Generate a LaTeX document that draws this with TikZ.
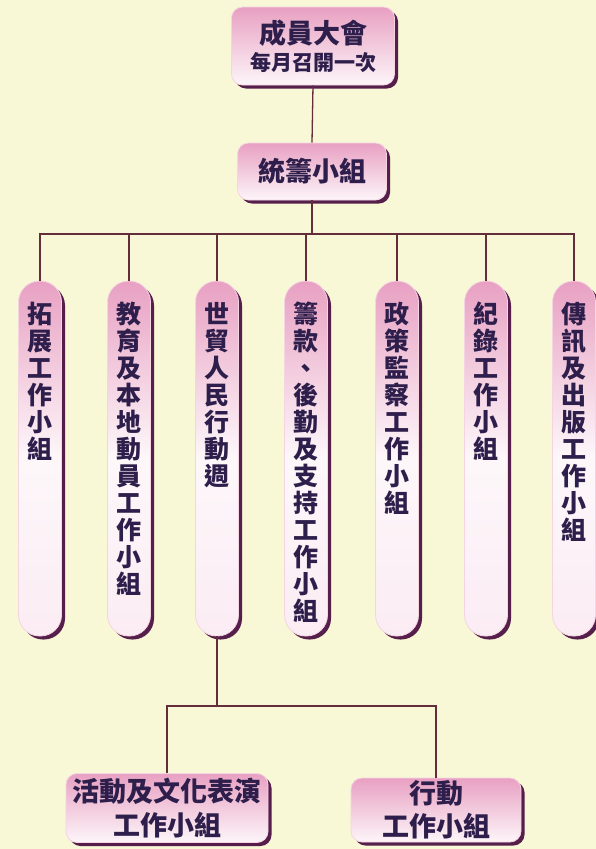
\documentclass[tikz,border=0pt]{standalone}
\usepackage{fontspec}
\newfontfamily\cjk{Noto Sans CJK TC}
\usetikzlibrary{shadows}
\definecolor{bg}{RGB}{248,248,214}
\definecolor{pk}{RGB}{232,160,194}
\definecolor{sh}{RGB}{85,30,75}
\definecolor{ln}{RGB}{100,45,60}
\definecolor{tx}{RGB}{45,30,75}
\newcommand\coltext[1]{\parbox[c][355pt][t]{43pt}{\vspace*{21pt}\centering\fontsize{25}{27}\selectfont #1\par}}
\tikzset{
 pbox/.style={draw=white!55!pk, line width=0.8pt, top color=pk, bottom color=white!90!pk,
   rounded corners=11pt, inner sep=0pt, text=tx, font=\cjk\bfseries, align=center,
   drop shadow={shadow xshift=3.5pt, shadow yshift=-3.5pt, fill=sh, opacity=1}},
 colbox/.style={pbox, rounded corners=21pt, top color=pk, bottom color=white!80!pk,
   middle color=white!92!pk, minimum width=43pt, minimum height=355pt},
 conn/.style={draw=ln, line width=1.3pt}
}
\begin{document}
\begin{tikzpicture}[x=1pt,y=1pt]
\useasboundingbox (0,0) rectangle (596,-849);
\fill[bg] (0,0) rectangle (596,-849);
% top boxes
\node[pbox, minimum width=163pt, minimum height=78pt] (top) at (313,-46)
  {{\fontsize{27}{27}\selectfont 成員大會}\\[5pt]{\fontsize{21}{21}\selectfont 每月召開一次}};
\node[pbox, minimum width=149pt, minimum height=57pt] (mid) at (312,-171.5)
  {\fontsize{27}{27}\selectfont 統籌小組};
% columns
\node[colbox] (c1) at (40,-458.5) {\coltext{拓\\展\\工\\作\\小\\組}};
\node[colbox] (c2) at (129,-458.5) {\coltext{教\\育\\及\\本\\地\\動\\員\\工\\作\\小\\組}};
\node[colbox] (c3) at (217,-458.5) {\coltext{世\\貿\\人\\民\\行\\動\\週}};
\node[colbox] (c4) at (306,-458.5) {\coltext{籌\\款\\、\\後\\勤\\及\\支\\持\\工\\作\\小\\組}};
\node[colbox] (c5) at (397,-458.5) {\coltext{政\\策\\監\\察\\工\\作\\小\\組}};
\node[colbox] (c6) at (486,-458.5) {\coltext{紀\\錄\\工\\作\\小\\組}};
\node[colbox] (c7) at (574,-458.5) {\coltext{傳\\訊\\及\\出\\版\\工\\作\\小\\組}};
% bottom boxes
\node[pbox, minimum width=202pt, minimum height=69pt] (b1) at (167,-808)
  {{\fontsize{27}{27}\selectfont 活動及文化表演}\\[6pt]{\fontsize{27}{27}\selectfont 工作小組}};
\node[pbox, minimum width=170pt, minimum height=64pt] (b2) at (436,-810)
  {{\fontsize{27}{27}\selectfont 行動}\\[6pt]{\fontsize{27}{27}\selectfont 工作小組}};
% connectors
\coordinate (bar) at (0,-234);
\coordinate (bar2) at (0,-706);
\draw[conn] (top.south) -- (mid.north);
\draw[conn] (mid.south) -- (mid.south |- bar);
\draw[conn] (c1.north) |- (c7.north |- bar) -- (c7.north);
\draw[conn] (c2.north) -- (c2.north |- bar);
\draw[conn] (c3.north) -- (c3.north |- bar);
\draw[conn] (c4.north) -- (c4.north |- bar);
\draw[conn] (c5.north) -- (c5.north |- bar);
\draw[conn] (c6.north) -- (c6.north |- bar);
\draw[conn] (c3.south) -- (c3.south |- bar2);
\draw[conn] (b1.north) |- (b2.north |- bar2) -- (b2.north);
\end{tikzpicture}
\end{document}
